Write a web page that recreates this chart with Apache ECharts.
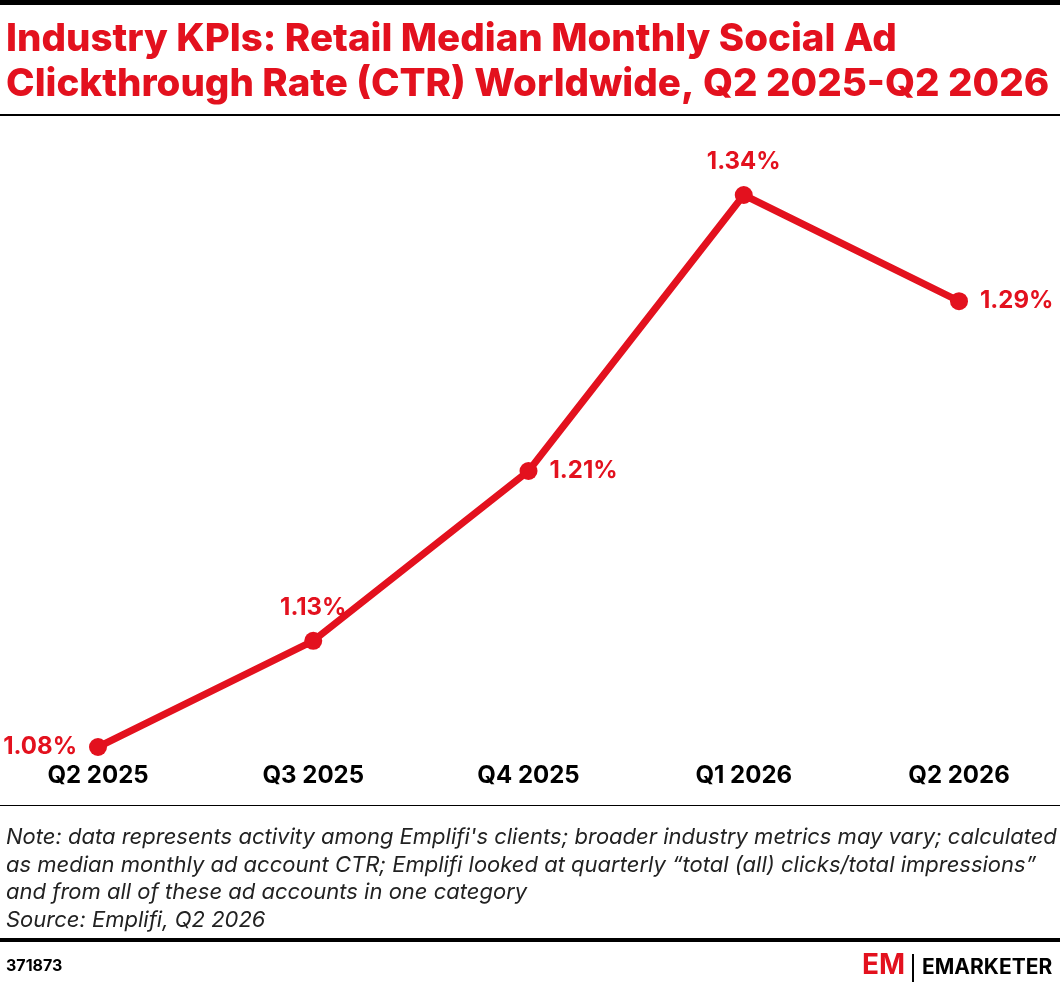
<!DOCTYPE html><html><head><meta charset="utf-8"><script src="https://cdn.jsdelivr.net/npm/echarts@6/dist/echarts.min.js"></script>
<style>body{margin:0}#c{width:1060px;height:986px}</style></head><body><div id="c"></div><script>
const categories=['Q2 2025','Q3 2025','Q4 2025','Q1 2026','Q2 2026'];
const values=[1.08,1.13,1.21,1.34,1.29];
const labelPos=['left','top','right','top','right'];
const red='#e3111e';
const F='Inter, "Noto Sans", sans-serif';
const chart=echarts.init(document.getElementById('c'));
chart.setOption({
animation:false,
grid:{left:98,right:101,top:195,bottom:239},
xAxis:{type:'category',data:categories,boundaryGap:false,axisLine:{show:false},axisTick:{show:false},
 axisLabel:{color:'#000',fontSize:24,fontWeight:'bold',fontFamily:F,margin:17}},
yAxis:{type:'value',min:1.08,max:1.34,show:false},
series:[{type:'line',data:values.map((v,i)=>({value:v,label:{position:labelPos[i]}})),
 lineStyle:{color:red,width:7},itemStyle:{color:red},symbol:'circle',symbolSize:18,
 label:{show:true,formatter:p=>p.value.toFixed(2)+'%',color:red,fontSize:24,fontWeight:'bold',fontFamily:F,distance:12}}],
graphic:[
 {type:'rect',shape:{x:0,y:0,width:1060,height:5},style:{fill:'#000'}},
 {type:'text',left:6,top:17,style:{text:'Industry KPIs: Retail Median Monthly Social Ad\nClickthrough Rate (CTR) Worldwide, Q2 2025-Q2 2026',fill:red,font:'800 38.5px '+F,lineHeight:45}},
 {type:'rect',shape:{x:0,y:114,width:1060,height:2},style:{fill:'#000'}},
 {type:'rect',shape:{x:0,y:805,width:1060,height:1},style:{fill:'#000'}},
 {type:'text',left:6,top:824,style:{text:'Note: data represents activity among Emplifi\'s clients; broader industry metrics may vary; calculated\nas median monthly ad account CTR; Emplifi looked at quarterly “total (all) clicks/total impressions”\nand from all of these ad accounts in one category\nSource: Emplifi, Q2 2026',fill:'#222',font:'italic 22px '+F,lineHeight:27.5}},
 {type:'rect',shape:{x:0,y:938,width:1060,height:4},style:{fill:'#000'}},
 {type:'text',left:6,top:958,style:{text:'371873',fill:'#000',font:'bold 16px '+F}},
 {type:'text',left:862,top:952,style:{text:'EM',fill:red,font:'bold 28px '+F}},
 {type:'rect',shape:{x:912,y:954,width:2,height:28},style:{fill:'#000'}},
 {type:'text',left:922,top:957,style:{text:'EMARKETER',fill:'#000',font:'bold 21px '+F}}
]});
</script></body></html>
